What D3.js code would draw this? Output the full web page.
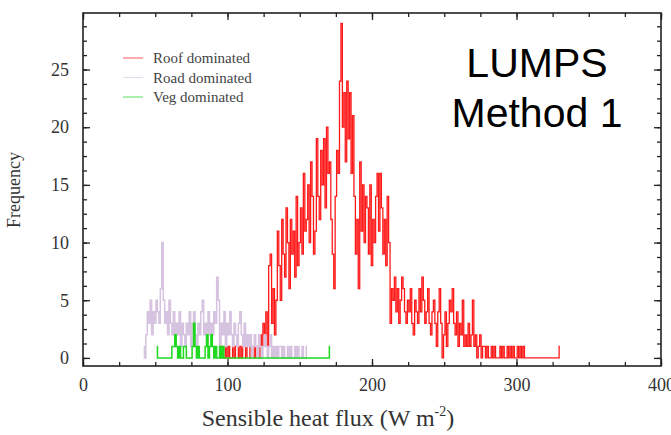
<!DOCTYPE html>
<html>
<head>
<meta charset="utf-8">
<script src="https://cdn.jsdelivr.net/npm/d3@7"></script>
<style>
  html, body { margin: 0; padding: 0; background: #fff; }
  svg { display: block; }
</style>
</head>
<body>
<svg id="chart" width="671" height="435"></svg>
<script>
// Histogram counts, one value per 1 W m-2 bin, starting at the given flux
const roofStart = 95;
const roofCounts = [
  0,1,0,0,1,0,1,0,0,1,
  0,1,1,0,1,0,1,1,0,1,
  1,0,1,1,0,1,1,0,2,1,
  3,2,4,1,8,9,3,6,2,5,
  11,8,5,12,9,7,13,10,6,12,
  9,11,7,14,8,10,13,9,16,11,
  12,15,10,17,14,9,11,19,14,12,
  18,15,19,13,20,16,17,12,9,6,
  14,18,16,24,29,20,23,17,24,19,
  23,16,21,14,9,12,6,17,11,15,
  10,14,13,9,15,8,12,10,14,16,
  11,16,13,9,12,8,14,10,3,6,
  5,7,4,6,3,5,7,6,4,3,
  5,4,6,3,2,5,4,3,6,4,
  7,5,3,4,6,3,2,4,5,3,
  1,4,6,3,0,2,4,1,3,5,
  4,6,3,2,4,1,3,2,5,1,
  2,1,3,1,2,5,1,2,0,1,
  2,0,1,1,0,1,0,0,1,0,
  1,0,0,0,1,0,1,0,0,1,
  0,1,0,1,0,0,1,0,1,0,
  1,0,0,0,0,0,0,0,0,0,
  0,0,0,0,0,0,0,0,0,0,
  0,0,0,0,0,1
];

const roadStart = 42;
const roadCounts = [
  1,0,2,4,3,5,2,4,3,5,
  4,3,6,10,5,3,4,2,5,3,
  2,4,1,3,2,4,1,3,2,1,
  3,2,4,1,3,4,2,1,3,2,
  4,5,2,3,1,4,2,3,2,4,
  3,7,5,1,3,2,4,1,3,2,
  4,2,1,3,2,1,3,4,2,1,
  3,1,2,1,2,0,1,2,1,0,
  2,1,0,1,2,1,0,1,2,0,
  1,0,1,0,1,1,0,1,0,0,
  1,0,1,0,0,1,0,1,0,0,
  1,0,0,1
];

const vegStart = 51;
const vegCounts = [
  1,0,0,0,0,0,0,0,0,0,
  0,1,1,2,1,0,1,0,0,1,
  1,0,0,0,0,1,3,1,0,1,
  0,0,0,0,1,2,0,1,2,1,
  0,1,0,0,1,0,1,0,0,0,
  0,0,0,0,0,0,0,0,0,0,
  0,0,0,0,0,0,0,0,0,0,
  0,0,0,0,0,0,0,0,0,0,
  0,0,0,0,0,0,0,0,0,0,
  0,0,0,0,0,0,0,0,0,0,
  0,0,0,0,0,0,0,0,0,0,
  0,0,0,0,0,0,0,0,0,0,
  1
];

const seriesNames = ["Roof dominated", "Road dominated", "Veg dominated"];
const seriesColors = ["#ff1a1a", "#d6c3e0", "#1fd81f"];
const xTicks = [0, 100, 200, 300, 400];
const yTicks = [0, 5, 10, 15, 20, 25];

const toPoints = (start, counts) => counts.map((c, i) => ({ x: start + i, y: c }));
const series = [
  toPoints(roofStart, roofCounts),
  toPoints(roadStart, roadCounts),
  toPoints(vegStart, vegCounts)
];

const W = 671, H = 435;
const margin = { top: 13, right: 10, bottom: 69, left: 83 };
const iw = W - margin.left - margin.right;
const ih = H - margin.top - margin.bottom;

const svg = d3.select("#chart");
const g = svg.append("g").attr("transform", `translate(${margin.left},${margin.top})`);

const x = d3.scaleLinear().domain([0, 400]).range([0, iw]);
const y = d3.scaleLinear().domain([-0.7, 29.9]).range([ih, 0]);

const serif = "'Liberation Serif', 'Times New Roman', serif";

// Data lines drawn as histogram steps
const line = d3.line().x(d => x(d.x)).y(d => y(d.y)).curve(d3.curveStep);
series.forEach((pts, i) => {
  g.append("path")
    .datum(pts)
    .attr("fill", "none")
    .attr("stroke", seriesColors[i])
    .attr("stroke-width", i === 0 ? 1.3 : 1.5)
    .attr("d", line);
});

// Frame with inward ticks on all sides
const minorX = d3.range(0, 401, 25);
const minorY = d3.range(0, 29.9, 1.25);

function styleAxis(sel) {
  sel.select(".domain").remove();
  sel.selectAll(".tick line").attr("stroke", "#222").attr("stroke-width", 1.3);
  sel.selectAll(".tick text").attr("fill", "#333").attr("font-family", serif).attr("font-size", 18);
}

// minor ticks
g.append("g").attr("transform", `translate(0,${ih})`)
  .call(d3.axisBottom(x).tickValues(minorX).tickSize(-4).tickFormat(""))
  .call(styleAxis);
g.append("g")
  .call(d3.axisTop(x).tickValues(minorX).tickSize(-4).tickFormat(""))
  .call(styleAxis);
g.append("g")
  .call(d3.axisLeft(y).tickValues(minorY).tickSize(-4).tickFormat(""))
  .call(styleAxis);
g.append("g").attr("transform", `translate(${iw},0)`)
  .call(d3.axisRight(y).tickValues(minorY).tickSize(-4).tickFormat(""))
  .call(styleAxis);

// major ticks and labels
g.append("g").attr("transform", `translate(0,${ih})`)
  .call(d3.axisBottom(x).tickValues(xTicks).tickSize(-7).tickPadding(12).tickFormat(d3.format("d")))
  .call(styleAxis);
g.append("g")
  .call(d3.axisTop(x).tickValues(xTicks).tickSize(-7).tickFormat(""))
  .call(styleAxis);
g.append("g")
  .call(d3.axisLeft(y).tickValues(yTicks).tickSize(-7).tickPadding(14).tickFormat(d3.format("d")))
  .call(styleAxis);
g.append("g").attr("transform", `translate(${iw},0)`)
  .call(d3.axisRight(y).tickValues(yTicks).tickSize(-7).tickFormat(""))
  .call(styleAxis);

g.append("rect")
  .attr("width", iw).attr("height", ih)
  .attr("fill", "none").attr("stroke", "#222").attr("stroke-width", 1.6);

// Axis titles
const xTitle = svg.append("text")
  .attr("x", 328).attr("y", 426)
  .attr("text-anchor", "middle")
  .attr("font-family", serif).attr("font-size", 24).attr("fill", "#333");
xTitle.append("tspan").text("Sensible heat flux (W m");
xTitle.append("tspan").attr("dy", -10).attr("font-size", 14).text("-2");
xTitle.append("tspan").attr("dy", 10).text(")");

svg.append("text")
  .attr("transform", "translate(20,190) rotate(-90)")
  .attr("text-anchor", "middle")
  .attr("font-family", serif).attr("font-size", 18).attr("fill", "#333")
  .text("Frequency");

// Legend
const legend = svg.append("g").attr("transform", "translate(123,58)");
seriesNames.forEach((name, i) => {
  const row = legend.append("g").attr("transform", `translate(0,${i * 19.5})`);
  row.append("line").attr("x1", 0).attr("x2", 20)
    .attr("stroke", seriesColors[i]).attr("stroke-width", 1.2).attr("opacity", 0.6);
  row.append("text").attr("x", 30).attr("y", 5)
    .attr("font-family", serif).attr("font-size", 15).attr("fill", "#444")
    .text(name);
});

// Method annotation
const note = svg.append("text")
  .attr("text-anchor", "middle")
  .attr("font-family", "'Liberation Sans', Arial, sans-serif")
  .attr("font-size", 41).attr("fill", "#000");
note.append("tspan").attr("x", 537).attr("y", 77).text("LUMPS");
note.append("tspan").attr("x", 537).attr("y", 127).text("Method 1");
</script>
</body>
</html>
